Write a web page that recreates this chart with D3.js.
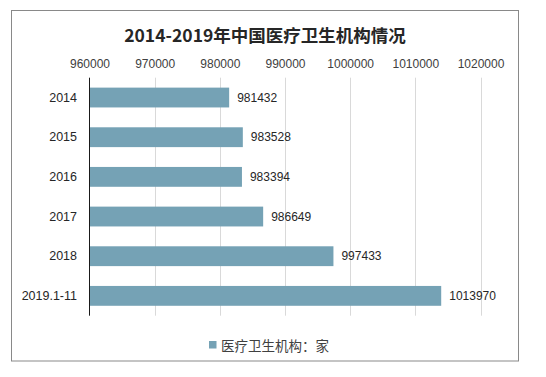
<!DOCTYPE html>
<html><head><meta charset="utf-8">
<script src="https://cdn.jsdelivr.net/npm/d3@7"></script>
<style>body{margin:0;background:#fff;}svg{display:block;}</style>
</head><body>
<svg id="c" width="546" height="377"></svg>
<script>
const categories = ["2014","2015","2016","2017","2018","2019.1-11"];
const values = [981432, 983528, 983394, 986649, 997433, 1013970];
const tickValues = [960000, 970000, 980000, 990000, 1000000, 1010000, 1020000];
const title = "2014-2019年中国医疗卫生机构情况";
const legendLabel = "医疗卫生机构：家";

const svg = d3.select("#c");
const font = "'Liberation Sans', Arial, 'Noto Sans CJK SC', sans-serif";
const cjk = "'Noto Sans CJK SC', 'Liberation Sans', sans-serif";

svg.append("rect").attr("x",11.5).attr("y",10.5).attr("width",507).attr("height",350.5)
  .attr("fill","#fff").attr("stroke","#898989").attr("stroke-width",1);

svg.append("text").attr("x",265).attr("y",34.5).attr("text-anchor","middle")
  .attr("dominant-baseline","central")
  .attr("font-family",cjk).attr("font-weight","bold").attr("font-size",17.5)
  .attr("fill","#262626").text(title);

const x = d3.scaleLinear().domain([960000,1020000]).range([89.5,480.5]);
const y = d3.scaleBand().domain(categories).range([77.7,315.7]).paddingInner(0.5).paddingOuter(0.25);

// gridlines
svg.append("g").selectAll("line").data(tickValues.slice(1)).join("line")
  .attr("x1",d=>Math.round(x(d))+0.5).attr("x2",d=>Math.round(x(d))+0.5)
  .attr("y1",77.7).attr("y2",315.7).attr("stroke","#d9d9d9").attr("stroke-width",1);

// top axis
const ax = svg.append("g").attr("transform","translate(0,77.7)")
  .call(d3.axisTop(x).tickValues(tickValues).tickSize(0).tickPadding(10).tickFormat(d3.format("d")));
ax.select(".domain").remove();
ax.selectAll("text").attr("font-family",font).attr("font-size",12).attr("fill","#404040");

// bars
svg.append("g").selectAll("rect").data(values).join("rect")
  .attr("x",x(960000)).attr("y",(d,i)=>y(categories[i]))
  .attr("width",d=>x(d)-x(960000)).attr("height",y.bandwidth())
  .attr("fill","#75A2B5");

// value labels
svg.append("g").selectAll("text").data(values).join("text")
  .attr("x",d=>x(d)+8).attr("y",(d,i)=>y(categories[i])+y.bandwidth()/2)
  .attr("dominant-baseline","central")
  .attr("font-family",font).attr("font-size",12).attr("fill","#262626")
  .text(d=>d);

// left axis
const ay = svg.append("g").attr("transform","translate(89.5,0)")
  .call(d3.axisLeft(y).tickSize(0).tickPadding(12.5));
ay.select(".domain").attr("stroke","#1a1a1a").attr("d","M0,77.7V315.7");
ay.selectAll("text").attr("font-family",font).attr("font-size",12.5).attr("fill","#262626");

// legend
svg.append("rect").attr("x",209).attr("y",341).attr("width",7.5).attr("height",7.5).attr("fill","#75A2B5");
svg.append("text").attr("x",221).attr("y",345).attr("dominant-baseline","central")
  .attr("font-family",cjk).attr("font-size",13.5).attr("fill","#404040").text(legendLabel);
</script>
</body></html>
